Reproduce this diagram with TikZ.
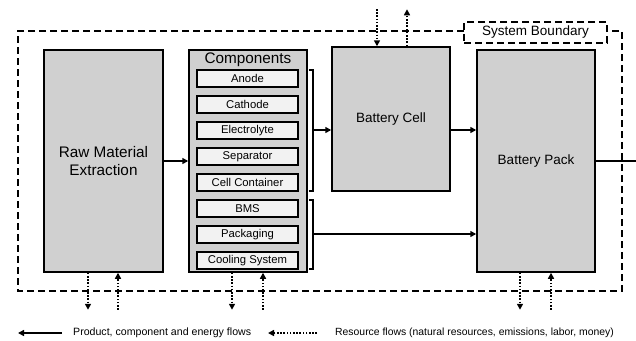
\documentclass[tikz,border=0pt]{standalone}
\usepackage{fontspec}
\setmainfont{Liberation Sans}
\usetikzlibrary{arrows.meta}
\definecolor{boxgray}{HTML}{D0D0D0}
\definecolor{subgray}{HTML}{F2F2F2}
\tikzset{
  bigbox/.style={draw, line width=1.5pt, fill=boxgray, inner sep=0pt, align=center, font=\fontsize{13.5}{16}\selectfont},
  subbox/.style={draw, line width=1.5pt, fill=subgray, minimum width=101pt, minimum height=17pt, inner sep=0pt, font=\fontsize{11.3}{13}\selectfont},
  flow/.style={line width=2pt, -{Triangle[length=6pt,width=6pt]}},
  resflow/.style={line width=2pt, dash pattern=on 1.6pt off 1.6pt, -{Triangle[length=6pt,width=6pt]}},
  bound/.style={line width=1.5pt, dash pattern=on 7pt off 4pt},
  brack/.style={line width=1.5pt},
}
\begin{document}
\begin{tikzpicture}[x=1pt,y=-1pt]
\useasboundingbox (0,0) rectangle (636,340);
% boundary
\draw[bound] (464,31) -- (18,31) -- (18,291) -- (622,291) -- (622,31) -- (607,31);
\node[bound, draw, minimum width=143pt, minimum height=21pt, inner sep=0pt, font=\fontsize{13.5}{16}\selectfont] (sb) at (535.5,32.5) {System Boundary};
% main boxes
\node[bigbox, minimum width=119pt, minimum height=222pt, font=\fontsize{15.3}{18}\selectfont] (raw) at (103.5,161) {Raw Material\\Extraction};
\node[bigbox, minimum width=118pt, minimum height=222pt] (comp) at (248,161) {};
\node[anchor=north, inner sep=0pt, font=\fontsize{15.3}{18}\selectfont] (comptitle) at ([yshift=-3pt]comp.north) {Components};
\node[bigbox, minimum width=118pt, minimum height=144pt] (cell) at (391,119) {Battery Cell};
\node[bigbox, minimum width=118pt, minimum height=222pt] (pack) at (536,161) {Battery Pack};
% sub boxes
\node[subbox] (anode) at (247.5,78.5) {Anode};
\node[subbox] (cathode) at (247.5,104.5) {Cathode};
\node[subbox] (electro) at (247.5,130.5) {Electrolyte};
\node[subbox] (sep) at (247.5,156.5) {Separator};
\node[subbox] (cont) at (247.5,182.5) {Cell Container};
\node[subbox] (bms) at (247.5,208.5) {BMS};
\node[subbox] (packg) at (247.5,234.5) {Packaging};
\node[subbox] (cool) at (247.5,260.5) {Cooling System};
% brackets
\coordinate (b1t) at (313,70);
\coordinate (b1b) at (313,191);
\coordinate (b1m) at (313,130);
\coordinate (b2t) at (313,200);
\coordinate (b2b) at (313,269);
\coordinate (b2m) at (313,234);
\draw[brack] ([xshift=-4pt]b1t) -- (b1t) -- (b1b) -- ([xshift=-4pt]b1b);
\draw[brack] ([xshift=-4pt]b2t) -- (b2t) -- (b2b) -- ([xshift=-4pt]b2b);
% product flows
\draw[flow] (raw.east) -- (comp.west);
\draw[flow] (b1m) -- (b1m -| cell.west);
\draw[flow] (b1m -| cell.east) -- (b1m -| pack.west);
\draw[flow] (b2m) -- (b2m -| pack.west);
\coordinate (out) at (636,161);
\draw[line width=2pt] (pack.east) -- (out);
% resource flows
\coordinate (c1) at (377,9);
\draw[resflow] (c1) -- (c1 |- cell.north);
\draw[resflow] ([xshift=16pt]cell.north) -- ++(0,-37);
\draw[resflow] ([xshift=-15.5pt]raw.south) -- ++(0,37);
\draw[resflow] ([xshift=14.5pt]raw.south) ++(0,37) coordinate (r2) -- ([xshift=14.5pt]raw.south);
\draw[resflow] ([xshift=-16pt]comp.south) -- ++(0,37);
\draw[resflow] ([xshift=15pt]comp.south) ++(0,37) coordinate (k2) -- ([xshift=15pt]comp.south);
\draw[resflow] ([xshift=-16pt]pack.south) -- ++(0,37);
\draw[resflow] ([xshift=15pt]pack.south) ++(0,37) coordinate (p2) -- ([xshift=15pt]pack.south);
% legend
\coordinate (l1a) at (62,333);
\coordinate (l1b) at (18,333);
\draw[flow] (l1a) -- (l1b);
\node[anchor=west, inner sep=0pt, font=\fontsize{10.6}{12}\selectfont] (lt1) at (73,333) {Product, component and energy flows};
\coordinate (l2a) at (317,333);
\coordinate (l2b) at (268,333);
\draw[resflow] (l2a) -- (l2b);
\node[anchor=west, inner sep=0pt, font=\fontsize{10.4}{12}\selectfont] (lt2) at (335,333) {Resource flows (natural resources, emissions, labor, money)};
\end{tikzpicture}
\end{document}
